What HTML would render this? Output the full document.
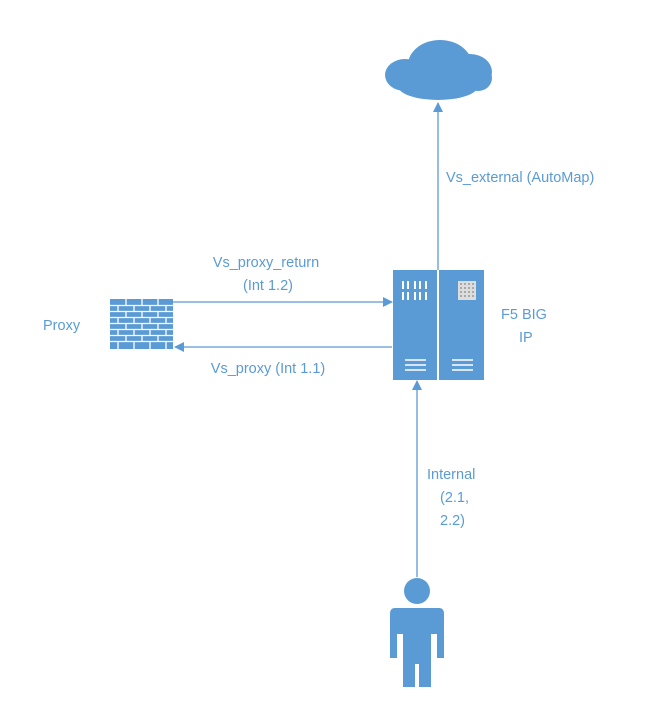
<!DOCTYPE html>
<html><head><style>
body{margin:0;background:#fff;width:672px;height:716px;overflow:hidden}
text{font-family:"Liberation Sans",sans-serif;font-size:14.5px;fill:#5b9bd5}
</style></head><body>
<svg width="672" height="716" viewBox="0 0 672 716">
<defs><marker id="a" markerWidth="10" markerHeight="10" refX="9" refY="5" orient="auto" markerUnits="userSpaceOnUse"><path d="M0,0 L10,5 L0,10 z" fill="#5b9bd5"/></marker></defs>
<g fill="#5b9bd5">
<!-- cloud -->
<ellipse cx="405" cy="75" rx="20" ry="16"/>
<ellipse cx="440" cy="65" rx="32" ry="25"/>
<ellipse cx="470" cy="72" rx="22" ry="18"/>
<ellipse cx="438" cy="86" rx="40" ry="14"/>
<ellipse cx="478" cy="78" rx="14" ry="13"/>
<!-- server -->
<rect x="393" y="270" width="44" height="110"/>
<rect x="439" y="270" width="45" height="110"/>
<!-- person -->
<circle cx="417" cy="591" r="13"/>
<path d="M395,608 H439 Q444,608 444,614 V658 H437 V634 H431 V687 H419 V664 H415 V687 H403 V634 H397 V658 H390 V614 Q390,608 395,608 z"/>
<!-- firewall -->
<rect x="110" y="299" width="63" height="50"/>
</g>
<g stroke="#fff" stroke-width="1.3">
<path d="M110,305.5H173M110,311.5H173M110,317.5H173M110,323.5H173M110,329.5H173M110,335.5H173M110,341.5H173"/>
<path d="M126,299v6M142,299v6M158,299v6M118,305v6M134,305v6M150,305v6M166,305v6M126,311v6M142,311v6M158,311v6M118,317v6M134,317v6M150,317v6M166,317v6M126,323v6M142,323v6M158,323v6M118,329v6M134,329v6M150,329v6M166,329v6M126,335v6M142,335v6M158,335v6M118,341v8M134,341v8M150,341v8M166,341v8"/>
<path d="M405,360h21M405,365h21M405,370h21M452,360h21M452,365h21M452,370h21" stroke-width="1.5"/>
<path d="M403,281v8M408,281v8M415,281v8M420,281v8M426,281v8M403,292v8M408,292v8M415,292v8M420,292v8M426,292v8" stroke-width="2"/>
</g>
<rect x="458" y="281" width="18" height="19" fill="#ddd"/>
<g fill="#999"><circle cx="461" cy="284" r="1"/><circle cx="465" cy="284" r="1"/><circle cx="469" cy="284" r="1"/><circle cx="473" cy="284" r="1"/><circle cx="461" cy="288" r="1"/><circle cx="465" cy="288" r="1"/><circle cx="469" cy="288" r="1"/><circle cx="473" cy="288" r="1"/><circle cx="461" cy="292" r="1"/><circle cx="465" cy="292" r="1"/><circle cx="469" cy="292" r="1"/><circle cx="473" cy="292" r="1"/><circle cx="461" cy="296" r="1"/><circle cx="465" cy="296" r="1"/><circle cx="469" cy="296" r="1"/><circle cx="473" cy="296" r="1"/></g>
<g stroke="#5b9bd5" stroke-width="1.3" fill="none">
<line x1="438" y1="270" x2="438" y2="103" marker-end="url(#a)"/>
<line x1="173" y1="302" x2="392" y2="302" marker-end="url(#a)"/>
<line x1="392" y1="347" x2="175" y2="347" marker-end="url(#a)"/>
<line x1="417" y1="577" x2="417" y2="381" marker-end="url(#a)"/>
</g>
<text x="446" y="182">Vs_external (AutoMap)</text>
<text x="266" y="267" text-anchor="middle">Vs_proxy_return</text>
<text x="268" y="290" text-anchor="middle">(Int 1.2)</text>
<text x="268" y="373" text-anchor="middle">Vs_proxy (Int 1.1)</text>
<text x="43" y="330">Proxy</text>
<text x="501" y="319">F5 BIG</text>
<text x="519" y="342">IP</text>
<text x="427" y="479">Internal</text>
<text x="440" y="502">(2.1,</text>
<text x="440" y="525">2.2)</text>
</svg>
</body></html>
